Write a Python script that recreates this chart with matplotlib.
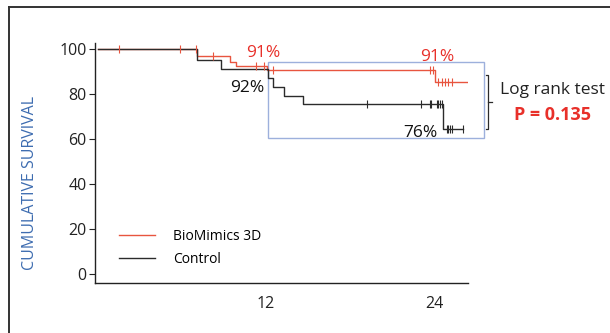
import matplotlib
matplotlib.use("Agg")
import matplotlib.pyplot as plt
from matplotlib.patches import Rectangle
from matplotlib.lines import Line2D

plt.rcParams['font.family'] = ['Open Sans', 'DejaVu Sans']

# Kaplan-Meier step data (months, % survival)
bio_times = [0, 7.05, 9.43, 9.86, 12.05, 24.07, 26.4]
bio_surv = [100, 97, 94.4, 92.6, 90.6, 85.5, 85.5]
bio_cens_t = [1.5, 5.9, 7.0, 8.2, 11.3, 11.86, 12.5, 23.7, 23.9, 24.3, 24.55, 24.8, 25.0, 25.3]
bio_cens_s = [100, 100, 100, 97, 92.6, 92.6, 90.6, 90.6, 90.6, 85.5, 85.5, 85.5, 85.5, 85.5]

ctl_times = [0, 7.05, 8.83, 12.17, 12.5, 13.3, 14.67, 24.67, 26.1]
ctl_surv = [100, 95.1, 91.1, 87, 83.3, 79, 75.4, 64.4, 64.4]
ctl_cens_t = [19.2, 23.1, 23.7, 23.8, 24.2, 24.3, 24.4, 24.55, 24.9, 25.0, 25.14, 25.26, 26.1]
ctl_cens_s = [75.4, 75.4, 75.4, 75.4, 75.4, 75.4, 75.4, 75.4, 64.4, 64.4, 64.4, 64.4, 64.4]

yticks = [0, 20, 40, 60, 80, 100]
xticks = [12, 24]

RED = '#e8553f'
TXTRED = '#e8302a'
DARK = '#2b2b2b'
BLUE = '#3d6cb0'

W, H = 610, 333
fig = plt.figure(figsize=(W / 100, H / 100), dpi=100)
ax = fig.add_axes([95 / W, 1 - 283 / H, (468 - 95) / W, (283 - 43) / H])

ax.step(bio_times, bio_surv, where='post', color=RED, lw=1.0, label='BioMimics 3D')
ax.step(ctl_times, ctl_surv, where='post', color=DARK, lw=1.0, label='Control')
ax.plot(bio_cens_t, bio_cens_s, ls='none', marker='|', ms=6, mew=0.8, color=RED)
ax.plot(ctl_cens_t, ctl_cens_s, ls='none', marker='|', ms=6, mew=0.8, color=DARK)

ax.set_xlim(-0.2, 26.43)
ax.set_ylim(-4, 102.7)
ax.set_yticks(yticks)
ax.set_xticks(xticks)
ax.set_xticklabels([str(v) for v in xticks])
ax.tick_params(axis='x', length=0, pad=9, labelsize=11.5, colors='#222222')
ax.tick_params(axis='y', length=4, width=0.8, pad=2, labelsize=11.5, colors='#222222')
for s in ['top', 'right']:
    ax.spines[s].set_visible(False)
for s in ['left', 'bottom']:
    ax.spines[s].set_linewidth(1.0)
    ax.spines[s].set_color('#222222')

ax.set_ylabel('CUMULATIVE SURVIVAL', color=BLUE, fontsize=11.5)
ax.yaxis.set_label_coords(-57 / (468 - 95), (283 - 183) / (283 - 43))

# highlight rectangle
rect = Rectangle((12.14, 60.4), 27.6 - 12.14, 94.2 - 60.4, fill=False,
                 ec='#9db0dc', lw=1.0, clip_on=False)
ax.add_patch(rect)

# annotations
ax.text(11.8, 98.2, '91%', color=TXTRED, fontsize=12.5, ha='center', va='center')
ax.text(24.2, 96.6, '91%', color=TXTRED, fontsize=12.5, ha='center', va='center')
ax.text(10.7, 82.9, '92%', color='#111111', fontsize=12.5, ha='center', va='center')
ax.text(23.0, 62.9, '76%', color='#111111', fontsize=12.5, ha='center', va='center')

# bracket
bx = (488.3 - 98) / 14
bx0 = (485.7 - 98) / 14
bx1 = (492.3 - 98) / 14
yt = (274 - 75) / 2.25
yb = (274 - 129.3) / 2.25
ym = (274 - 102) / 2.25
ax.plot([bx0, bx, bx, bx0], [yt, yt, yb, yb], color=DARK, lw=0.9, clip_on=False)
ax.plot([bx, bx1], [ym, ym], color=DARK, lw=0.9, clip_on=False)

fig.text(553 / W, 1 - 90 / H, 'Log rank test', fontsize=12.5, ha='center', va='center', color='#222222')
fig.text(552 / W, 1 - 115 / H, 'P = 0.135', fontsize=13, ha='center', va='center',
         color=TXTRED, fontweight='bold')

# legend
handles = [Line2D([], [], color=RED, lw=1.0), Line2D([], [], color=DARK, lw=1.0)]
fig.legend(handles, ['BioMimics 3D', 'Control'], loc='upper left',
           bbox_to_anchor=(112 / W, 1 - 222 / H), frameon=False, fontsize=10,
           handlelength=2.6, handletextpad=1.3, labelspacing=0.55, borderpad=0)

# figure frame (left and top)
fig.add_artist(Line2D([9 / W, 9 / W], [0, 1 - 7 / H], color='#333333', lw=1.4))
fig.add_artist(Line2D([9 / W, 1], [1 - 7 / H, 1 - 7 / H], color='#333333', lw=1.4))

fig.savefig('out.png', dpi=100)
